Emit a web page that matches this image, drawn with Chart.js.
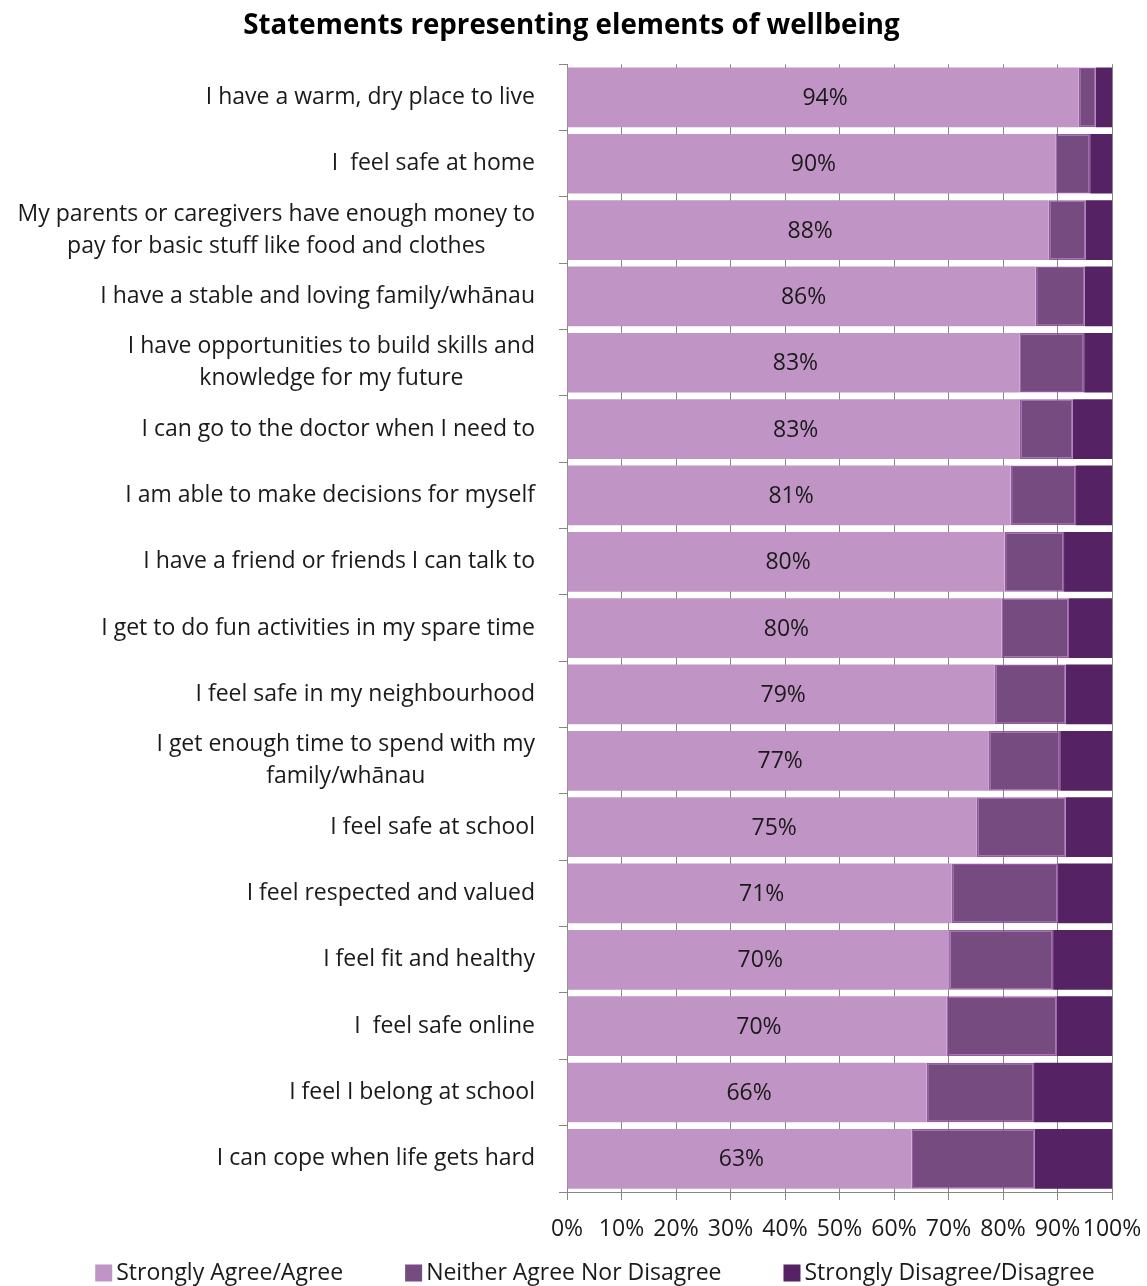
<!DOCTYPE html>
<html>
<head>
<meta charset="utf-8">
<script src="https://cdn.jsdelivr.net/npm/chart.js@4"></script>
<style>
  html, body { margin: 0; padding: 0; background: #ffffff; }
  #wrap { width: 1147px; height: 1286px; position: relative; }
</style>
</head>
<body>
<div id="wrap"><canvas id="c" width="1147" height="1286"></canvas></div>
<script>
const categories = [
  ["I have a warm, dry place to live"],
  ["I  feel safe at home"],
  ["My parents or caregivers have enough money to", "pay for basic stuff like food and clothes"],
  ["I have a stable and loving family/whānau"],
  ["I have opportunities to build skills and", "knowledge for my future"],
  ["I can go to the doctor when I need to"],
  ["I am able to make decisions for myself"],
  ["I have a friend or friends I can talk to"],
  ["I get to do fun activities in my spare time"],
  ["I feel safe in my neighbourhood"],
  ["I get enough time to spend with my", "family/whānau"],
  ["I feel safe at school"],
  ["I feel respected and valued"],
  ["I feel fit and healthy"],
  ["I  feel safe online"],
  ["I feel I belong at school"],
  ["I can cope when life gets hard"]
];
const agree    = [93.9, 89.6, 88.4, 86.0, 83.0, 83.1, 81.4, 80.3, 79.7, 78.5, 77.4, 75.2, 70.6, 70.1, 69.6, 66.0, 63.2];
const neutral  = [3.1, 6.4, 6.8, 9.0, 11.9, 9.7, 12.0, 10.9, 12.4, 13.0, 13.1, 16.3, 19.5, 19.1, 20.3, 19.7, 22.6];
const disagree = [3.0, 4.0, 4.8, 5.0, 5.1, 7.2, 6.6, 8.8, 7.9, 8.5, 9.5, 8.5, 9.9, 10.8, 10.1, 14.3, 14.2];
const seriesNames = ["Strongly Agree/Agree", "Neither Agree Nor Disagree", "Strongly Disagree/Disagree"];
const xTicks = [0, 10, 20, 30, 40, 50, 60, 70, 80, 90, 100];
const titleText = "Statements representing elements of wellbeing";

const FONT = "'Open Sans', sans-serif";
const FS = 23;
const colors = ["#C094C5", "#764B80", "#552263"];
const PAD_L = 31, PAD_R = 35;

const labelPlugin = {
  id: 'valueLabels',
  afterDatasetsDraw(chart) {
    const ctx = chart.ctx;
    const meta = chart.getDatasetMeta(0);
    ctx.save();
    ctx.font = FS + "px " + FONT;
    ctx.fillStyle = "#1a1a1a";
    ctx.textAlign = "center";
    ctx.textBaseline = "middle";
    meta.data.forEach((bar, i) => {
      const v = chart.data.datasets[0].data[i];
      ctx.fillText(Math.round(v) + "%", (bar.x + bar.base) / 2 + 2, bar.y + 1);
    });
    ctx.restore();
  }
};

const yLabelPlugin = {
  id: 'yLabels',
  afterDraw(chart) {
    const ctx = chart.ctx;
    const ys = chart.scales.y;
    const right = ys.right - 32;
    const lh = 32;
    ctx.save();
    ctx.font = FS + "px " + FONT;
    ctx.fillStyle = "#1a1a1a";
    ctx.textBaseline = "middle";
    ctx.textAlign = "center";
    chart.data.labels.forEach((lines, i) => {
      const yc = ys.getPixelForValue(i);
      const w = Math.max(...lines.map(l => ctx.measureText(l).width));
      const cx = right - w / 2;
      const y0 = yc - (lines.length - 1) * lh / 2;
      lines.forEach((l, k) => ctx.fillText(l, cx, y0 + k * lh));
    });
    ctx.restore();
  }
};

const legendPlugin = {
  id: 'customLegend',
  afterDraw(chart) {
    const ctx = chart.ctx;
    ctx.save();
    ctx.font = FS + "px " + FONT;
    ctx.textBaseline = "middle";
    ctx.textAlign = "left";
    const box = 17, gapText = 4, gapItem = 62;
    const items = chart.data.datasets.map(d => ({ text: d.label, color: d.backgroundColor, w: box + gapText + ctx.measureText(d.label).width }));
    const total = items.reduce((s, it) => s + it.w, 0) + gapItem * (items.length - 1);
    let x = 595 - total / 2;
    const yc = 1273;
    items.forEach(it => {
      ctx.fillStyle = it.color;
      ctx.fillRect(x, yc - box / 2, box, box);
      ctx.fillStyle = "#1a1a1a";
      ctx.fillText(it.text, x + box + gapText, yc);
      x += it.w + gapItem;
    });
    ctx.restore();
  }
};

new Chart(document.getElementById('c'), {
  type: 'bar',
  data: {
    labels: categories,
    datasets: [
      { label: seriesNames[0], data: agree, backgroundColor: colors[0], borderWidth: 0 },
      { label: seriesNames[1], data: neutral, backgroundColor: colors[1], borderColor: "#9A57A8", borderWidth: 1.5, borderSkipped: false },
      { label: seriesNames[2], data: disagree, backgroundColor: colors[2], borderWidth: 0 }
    ]
  },
  options: {
    indexAxis: 'y',
    responsive: false,
    animation: false,
    layout: { padding: { left: PAD_L, right: PAD_R, top: 0, bottom: 50 } },
    datasets: { bar: { barPercentage: 0.9, categoryPercentage: 1.0 } },
    plugins: {
      legend: { display: false },
      tooltip: { enabled: false },
      title: {
        display: true,
        text: titleText,
        color: "#000000",
        font: { family: FONT, size: 27.7, weight: 'bold', lineHeight: 1.2 },
        padding: { top: 9, bottom: 22 }
      }
    },
    scales: {
      x: {
        stacked: true,
        min: 0, max: 100,
        afterBuildTicks(scale) { scale.ticks = xTicks.map(v => ({ value: v })); },
        afterFit(scale) { scale.height = 44; scale.paddingRight = 0; scale.paddingLeft = 0; },
        grid: { color: "#868686", lineWidth: 1, tickLength: 8, drawTicks: true },
        border: { color: "#868686", width: 1 },
        ticks: {
          autoSkip: false, maxRotation: 0, minRotation: 0,
          padding: 16,
          color: "#1a1a1a",
          font: { family: FONT, size: FS },
          callback: v => v + "%"
        }
      },
      y: {
        stacked: true,
        afterFit(scale) { scale.width = 567 - PAD_L; },
        grid: { display: true, drawOnChartArea: false, offset: true, color: "#868686", tickLength: 8 },
        border: { color: "#868686", width: 1 },
        ticks: { display: false }
      }
    }
  },
  plugins: [labelPlugin, yLabelPlugin, legendPlugin]
});
</script>
</body>
</html>
